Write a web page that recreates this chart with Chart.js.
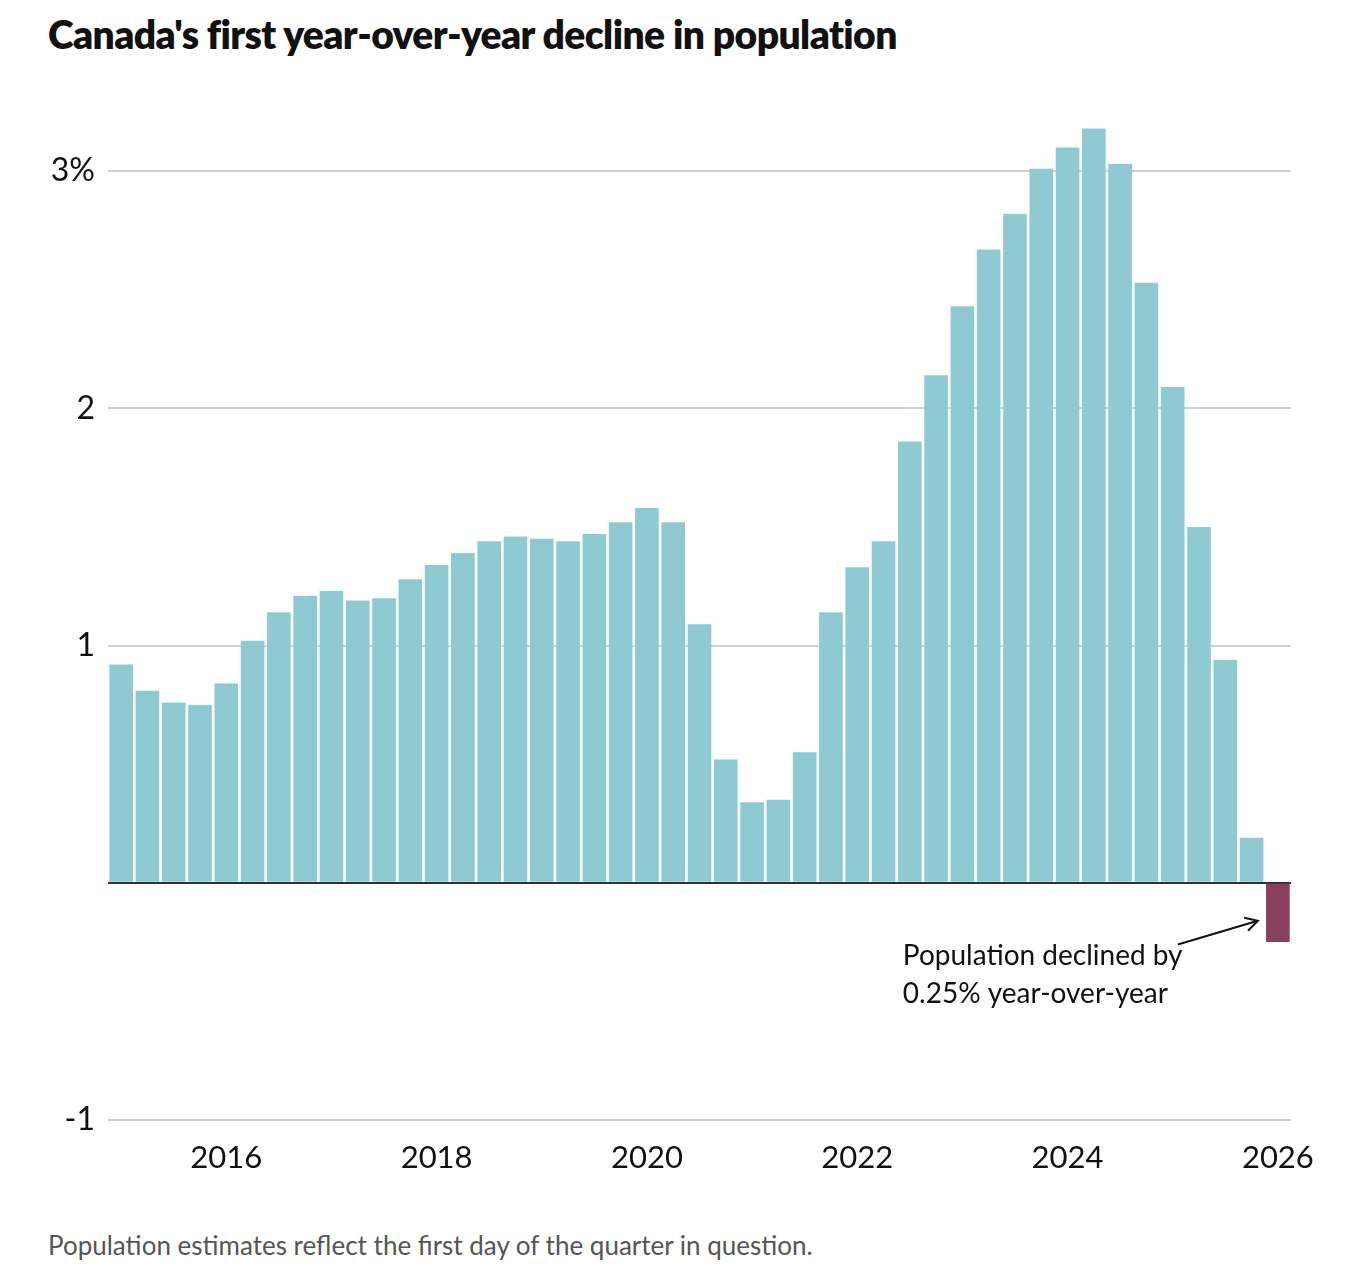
<!DOCTYPE html>
<html>
<head>
<meta charset="utf-8">
<script src="https://cdn.jsdelivr.net/npm/chart.js@4/dist/chart.umd.min.js"></script>
<style>
  body { margin: 0; background: #fff; font-family: Lato, "Open Sans", sans-serif; }
  #title {
    position: absolute; left: 48px; top: 11px; margin: 0;
    font-size: 39px; font-weight: 800; color: #111;
    white-space: nowrap; letter-spacing: -0.6px;
  }
  #wrap { position: absolute; left: 0; top: 0; width: 1359px; height: 1200px; }
  #note {
    position: absolute; left: 48px; top: 1229px;
    font-size: 26px; color: #555; white-space: nowrap;
  }
</style>
</head>
<body>
<h1 id="title">Canada's first year-over-year decline in population</h1>
<div id="wrap"><canvas id="chart"></canvas></div>
<div id="note">Population estimates reflect the first day of the quarter in question.</div>

<script>
// quarterly year-over-year population growth, %
const quarters = [
    "2015 Q1", "2015 Q2", "2015 Q3", "2015 Q4",
    "2016 Q1", "2016 Q2", "2016 Q3", "2016 Q4",
    "2017 Q1", "2017 Q2", "2017 Q3", "2017 Q4",
    "2018 Q1", "2018 Q2", "2018 Q3", "2018 Q4",
    "2019 Q1", "2019 Q2", "2019 Q3", "2019 Q4",
    "2020 Q1", "2020 Q2", "2020 Q3", "2020 Q4",
    "2021 Q1", "2021 Q2", "2021 Q3", "2021 Q4",
    "2022 Q1", "2022 Q2", "2022 Q3", "2022 Q4",
    "2023 Q1", "2023 Q2", "2023 Q3", "2023 Q4",
    "2024 Q1", "2024 Q2", "2024 Q3", "2024 Q4",
    "2025 Q1", "2025 Q2", "2025 Q3", "2025 Q4",
    "2026 Q1"
];
const growth = [
    0.92, 0.81, 0.76, 0.75, 0.84, 1.02, 1.14, 1.21, 1.23, 1.19,
    1.20, 1.28, 1.34, 1.39, 1.44, 1.46, 1.45, 1.44, 1.47, 1.52,
    1.58, 1.52, 1.09, 0.52, 0.34, 0.35, 0.55, 1.14, 1.33, 1.44,
    1.86, 2.14, 2.43, 2.67, 2.82, 3.01, 3.10, 3.18, 3.03, 2.53,
    2.09, 1.50, 0.94, 0.19, -0.25
];
const yearTicks = ["2016", "2018", "2020", "2022", "2024", "2026"];
const yTicks = [-1, 0, 1, 2, 3];
const noteLines = ["Population declined by", "0.25% year-over-year"];

const POS = "#8fcad3";
const NEG = "#8b3f5f";
const INK = "#111";
const FONT = "Lato, 'Open Sans', sans-serif";

// arrow + text next to the negative bar
const annotate = {
    id: "annotate",
    afterDatasetsDraw(chart) {
        const { ctx, scales: { x, y } } = chart;
        const last = growth.length - 1;
        const bx = x.getPixelForValue(last);
        const tipX = bx - 20, tipY = y.getPixelForValue(-0.16);
        const startX = bx - 100, startY = y.getPixelForValue(-0.26);

        ctx.save();
        ctx.strokeStyle = INK;
        ctx.lineWidth = 2;
        ctx.beginPath();
        ctx.moveTo(startX, startY);
        ctx.lineTo(tipX, tipY);
        const ang = Math.atan2(tipY - startY, tipX - startX);
        const len = 14;
        ctx.moveTo(tipX - len * Math.cos(ang - 0.5), tipY - len * Math.sin(ang - 0.5));
        ctx.lineTo(tipX, tipY);
        ctx.lineTo(tipX - len * Math.cos(ang + 0.5), tipY - len * Math.sin(ang + 0.5));
        ctx.stroke();

        ctx.fillStyle = INK;
        ctx.font = "28px " + FONT;
        ctx.textAlign = "left";
        ctx.textBaseline = "middle";
        const tx = bx - 375;
        noteLines.forEach((t, i) => {
            ctx.fillText(t, tx, y.getPixelForValue(-0.31) + i * 38);
        });
        ctx.restore();
    }
};

new Chart(document.getElementById("chart"), {
    type: "bar",
    data: {
        labels: quarters,
        datasets: [{
            data: growth,
            backgroundColor: growth.map(v => v < 0 ? NEG : POS),
            borderWidth: 0,
            categoryPercentage: 1,
            barPercentage: 0.9
        }]
    },
    options: {
        responsive: true,
        maintainAspectRatio: false,
        animation: false,
        layout: { padding: { top: 100, right: 68, left: 0, bottom: 0 } },
        plugins: { legend: { display: false }, tooltip: { enabled: false } },
        scales: {
            x: {
                grid: { display: false },
                border: { display: false },
                ticks: {
                    autoSkip: false,
                    maxRotation: 0,
                    padding: 11,
                    color: INK,
                    font: { family: FONT, size: 31 },
                    callback: function (val, i) {
                        const [yr, q] = quarters[i].split(" ");
                        return q === "Q1" && yearTicks.includes(yr) ? yr : "";
                    }
                },
                afterFit: scale => { scale.height = 80; }
            },
            y: {
                min: -1,
                max: 3.3,
                border: { display: false },
                grid: {
                    drawTicks: false,
                    lineWidth: 2,
                    color: c => c.tick && c.tick.value === 0 ? "#333" : "#cfcfcf"
                },
                ticks: {
                    padding: 13,
                    color: INK,
                    font: { family: FONT, size: 32 },
                    callback: v => v === 0 ? "" : (v === 3 ? "3%" : String(v))
                },
                afterBuildTicks: scale => { scale.ticks = yTicks.map(v => ({ value: v })); },
                afterFit: scale => { scale.width = 108; }
            }
        }
    },
    plugins: [annotate]
});
</script>
</body>
</html>
